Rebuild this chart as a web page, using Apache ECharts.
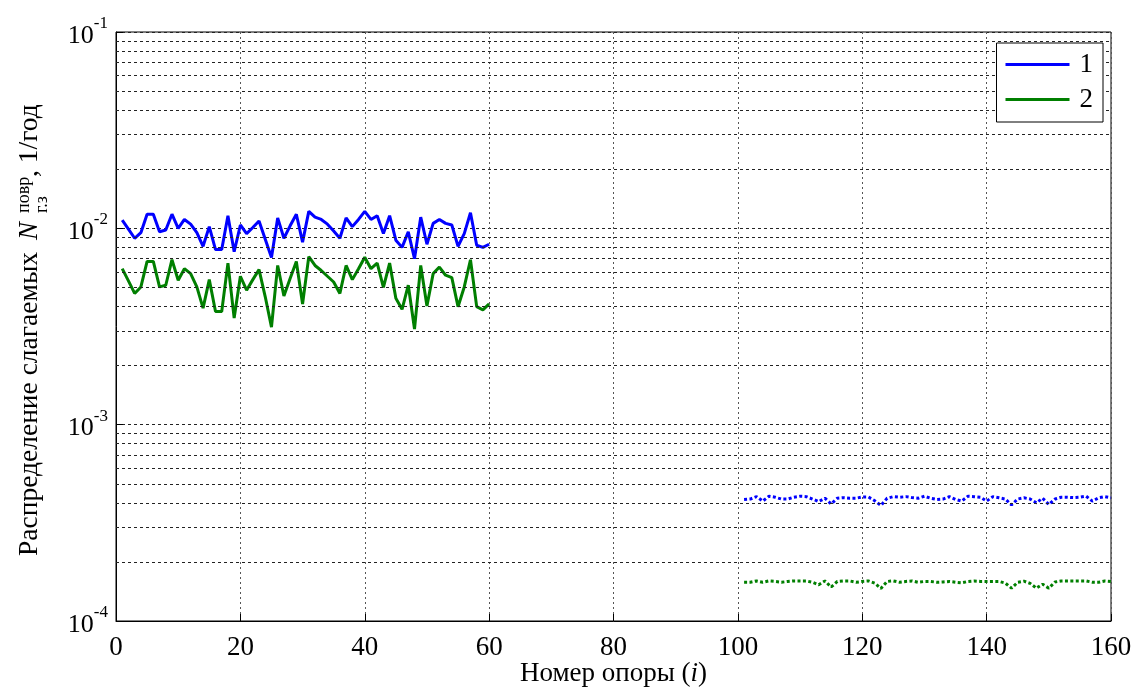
<!DOCTYPE html>
<html>
<head>
<meta charset="utf-8">
<script src="https://cdn.jsdelivr.net/npm/echarts@6/dist/echarts.min.js"></script>
<style>
  html, body { margin: 0; padding: 0; background: #fff; }
  #container { width: 1138px; height: 688px; }
</style>
</head>
<body>
<div id="container"></div>
<script>
// support numbers (i) for both parts of the line
const idxHead = [];
for (let i = 1; i <= 60; i++) idxHead.push(i);
const idxTail = [];
for (let i = 101; i <= 160; i++) idxTail.push(i);

// curve 1, supports 1..60
const blueHead = [
  0.0110, 0.0099, 0.0089, 0.0095, 0.0118, 0.0118, 0.0096, 0.0098, 0.0118, 0.0100,
  0.0111, 0.0105, 0.0095, 0.0081, 0.0102, 0.0078, 0.0078, 0.0116, 0.0076, 0.0104,
  0.0094, 0.0101, 0.0109, 0.0088, 0.0071, 0.0113, 0.0089, 0.0103, 0.0118, 0.0085,
  0.0122, 0.0114, 0.0111, 0.0105, 0.0097, 0.0089, 0.0113, 0.0102, 0.0111, 0.0122,
  0.0111, 0.0116, 0.0094, 0.0116, 0.0087, 0.0080, 0.0096, 0.0070, 0.0114, 0.0083,
  0.0106, 0.0111, 0.0106, 0.0104, 0.0081, 0.0094, 0.0120, 0.0082, 0.0080, 0.0083,
];
// curve 2, supports 1..60
const greenHead = [
  0.00623, 0.00540, 0.00466, 0.00503, 0.00678, 0.00678, 0.00503, 0.00513, 0.00692, 0.00544,
  0.00623, 0.00588, 0.00503, 0.00392, 0.00548, 0.00377, 0.00377, 0.00665, 0.00349, 0.00570,
  0.00484, 0.00548, 0.00616, 0.00448, 0.00314, 0.00647, 0.00452, 0.00555, 0.00678, 0.00412,
  0.00718, 0.00647, 0.00610, 0.00570, 0.00533, 0.00466, 0.00647, 0.00548, 0.00623, 0.00713,
  0.00623, 0.00665, 0.00500, 0.00665, 0.00440, 0.00387, 0.00513, 0.00307, 0.00647, 0.00402,
  0.00588, 0.00635, 0.00577, 0.00561, 0.00399, 0.00503, 0.00692, 0.00399, 0.00384, 0.00412,
];
// supports 101..160, in units of 1e-4
const blueTail = [
  4.16, 4.18, 4.30, 4.08, 4.32, 4.27, 4.18, 4.18, 4.27, 4.32,
  4.30, 4.18, 4.06, 4.22, 3.95, 4.22, 4.25, 4.22, 4.22, 4.28,
  4.28, 4.10, 3.88, 4.22, 4.30, 4.27, 4.30, 4.25, 4.22, 4.32,
  4.22, 4.16, 4.18, 4.30, 4.16, 4.08, 4.32, 4.30, 4.27, 4.08,
  4.30, 4.24, 4.18, 3.90, 4.18, 4.24, 4.18, 4.00, 4.22, 3.92,
  4.18, 4.27, 4.27, 4.25, 4.27, 4.32, 4.08, 4.24, 4.30, 4.24,
];
const greenTail = [
  1.575, 1.575, 1.600, 1.575, 1.600, 1.590, 1.575, 1.590, 1.600, 1.600,
  1.600, 1.575, 1.530, 1.600, 1.490, 1.590, 1.600, 1.600, 1.575, 1.590,
  1.600, 1.560, 1.465, 1.590, 1.600, 1.575, 1.590, 1.600, 1.575, 1.590,
  1.590, 1.575, 1.580, 1.590, 1.575, 1.565, 1.590, 1.600, 1.590, 1.590,
  1.590, 1.590, 1.560, 1.470, 1.575, 1.595, 1.555, 1.470, 1.540, 1.470,
  1.580, 1.600, 1.600, 1.600, 1.600, 1.600, 1.575, 1.575, 1.600, 1.590,
];
const tailUnit = 1e-4;

const seriesNames = ["1", "2"];
const colors = ["#0000ff", "#007f00"];

// minor log grid lines 2..9 in each decade
const minorGrid = [];
for (let e = -4; e <= -2; e++) {
  for (let k = 2; k <= 9; k++) minorGrid.push(k * Math.pow(10, e));
}

const FONT = "Liberation Serif";
const pairs = (xs, ys, unit) => xs.map((x, k) => [x, ys[k] * (unit || 1)]);

const lineSerie = (name, color, data, dotted) => ({
  name: name,
  type: "line",
  data: data,
  symbol: "none",
  z: 3,
  lineStyle: {
    color: color,
    width: 3,
    type: dotted ? [3, 2.4] : "solid",
    cap: "butt",
  },
  itemStyle: { color: color },
});

const dom = document.getElementById("container");
const myChart = echarts.init(dom);

const option = {
  animation: false,
  backgroundColor: "#fff",
  textStyle: { fontFamily: FONT, color: "#000" },
  grid: {
    left: 116,
    right: 27,
    top: 32,
    bottom: 67,
    containLabel: false,
    outerBoundsMode: "none",
    show: true,
    borderColor: "#000",
    borderWidth: 1,
  },
  legend: {
    data: seriesNames,
    orient: "vertical",
    right: 35,
    top: 43,
    z: 10,
    icon: "path://M0,0H64V3H0Z",
    itemWidth: 64,
    itemHeight: 3,
    itemGap: 8,
    padding: [8, 10, 9, 9],
    itemStyle: { borderWidth: 0, borderColor: "transparent", borderType: "solid" },
    backgroundColor: "#fff",
    borderColor: "#000",
    borderWidth: 1,
    textStyle: { fontFamily: FONT, fontSize: 27, color: "#000", padding: [0, 0, 0, 5] },
  },
  xAxis: {
    type: "value",
    min: 0,
    max: 160,
    interval: 20,
    name: "Номер опоры ({it|i})",
    nameLocation: "middle",
    nameGap: 39,
    nameMoveOverlap: false,
    nameTextStyle: {
      fontFamily: FONT,
      fontSize: 27,
      color: "#000",
      verticalAlign: "top",
      rich: { it: { fontFamily: FONT, fontSize: 27, fontStyle: "italic", color: "#000" } },
    },
    axisLine: { lineStyle: { color: "#000", width: 1 } },
    axisTick: { inside: true, length: 7, lineStyle: { color: "#000" } },
    axisLabel: { fontFamily: FONT, fontSize: 27, color: "#000", margin: 13 },
    splitLine: { show: true, lineStyle: { color: "#555", type: [2, 3], width: 1 } },
  },
  yAxis: {
    type: "log",
    logBase: 10,
    min: 1e-4,
    max: 1e-1,
    axisLine: { lineStyle: { color: "#000", width: 1 } },
    axisTick: { inside: true, length: 7, lineStyle: { color: "#000" } },
    axisLabel: {
      margin: 8,
      formatter: (v) => "{b|10}{e|" + Math.round(Math.log10(v)) + "}",
      rich: {
        b: { fontFamily: FONT, fontSize: 26, color: "#000", verticalAlign: "bottom", lineHeight: 26 },
        e: { fontFamily: FONT, fontSize: 17, color: "#000", verticalAlign: "bottom", padding: [0, 0, 17, 0] },
      },
    },
    splitLine: { show: true, lineStyle: { color: "#222", type: [3, 3], width: 1 } },
  },
  series: [
    {
      name: "grid",
      type: "line",
      data: [],
      z: 1,
      markLine: {
        silent: true,
        precision: 10,
        symbol: ["none", "none"],
        label: { show: false },
        lineStyle: { color: "#222", type: [3, 3], width: 1 },
        data: minorGrid.map((v) => ({ yAxis: v })),
      },
    },
    lineSerie("1", colors[0], pairs(idxHead, blueHead), false),
    lineSerie("2", colors[1], pairs(idxHead, greenHead), false),
    lineSerie("1 tail", colors[0], pairs(idxTail, blueTail, tailUnit), true),
    lineSerie("2 tail", colors[1], pairs(idxTail, greenTail, tailUnit), true),
  ],
  graphic: [
    {
      type: "group",
      x: 37.5,
      y: 556,
      rotation: Math.PI / 2,
      children: [
        {
          type: "text",
          x: 0,
          y: 6,
          style: { text: "Распределение слагаемых", font: "27.5px " + FONT, fill: "#000", textVerticalAlign: "bottom" },
        },
        {
          type: "text",
          x: 316,
          y: 6,
          style: { text: "N", font: "italic 27px " + FONT, fill: "#000", textVerticalAlign: "bottom" },
        },
        {
          type: "text",
          x: 343,
          y: -4,
          style: { text: "повр", font: "18px " + FONT, fill: "#000", textVerticalAlign: "bottom" },
        },
        {
          type: "text",
          x: 343,
          y: 14,
          style: { text: "г.з", font: "18px " + FONT, fill: "#000", textVerticalAlign: "bottom" },
        },
        {
          type: "text",
          x: 379,
          y: 6,
          style: { text: ", 1/год", font: "27.5px " + FONT, fill: "#000", textVerticalAlign: "bottom" },
        },
      ],
    },
  ],
};

myChart.setOption(option);
</script>
</body>
</html>
